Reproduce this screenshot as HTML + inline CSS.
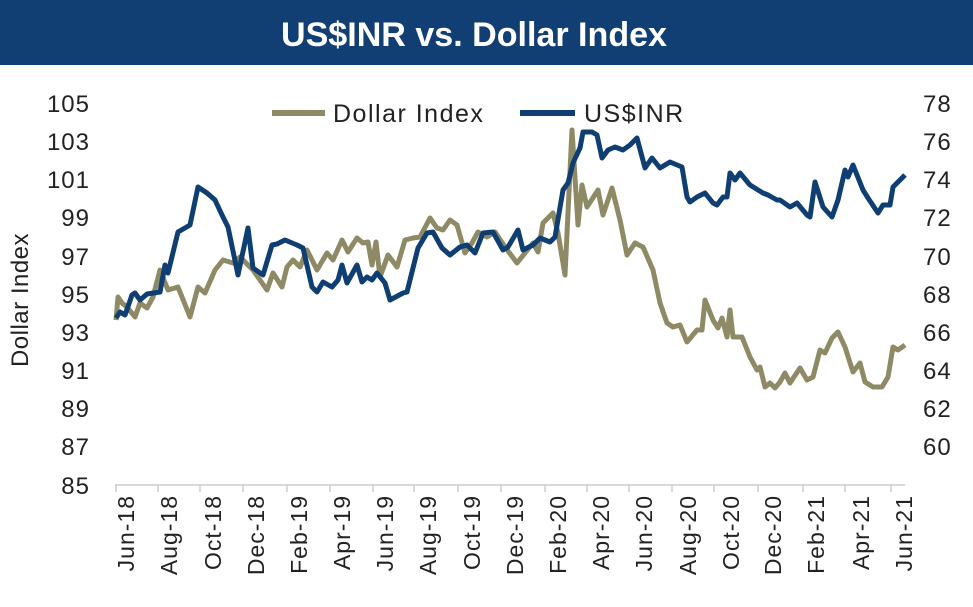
<!DOCTYPE html>
<html><head><meta charset="utf-8"><style>
body{margin:0;background:#fff;width:973px;height:602px;overflow:hidden}
</style></head><body>
<svg width="973" height="602" xmlns="http://www.w3.org/2000/svg" font-family="Liberation Sans, sans-serif">
<rect x="0" y="0" width="973" height="65" fill="#123f73"/>
<text x="474" y="46" text-anchor="middle" fill="#fff" font-size="34" font-weight="bold" font-family="Liberation Sans Narrow, Liberation Sans, sans-serif" textLength="386" lengthAdjust="spacingAndGlyphs">US$INR vs. Dollar Index</text>
<g font-size="24" fill="#222" text-anchor="end" letter-spacing="1">
<text x="90" y="112">105</text><text x="90" y="150">103</text><text x="90" y="188">101</text><text x="90" y="226">99</text><text x="90" y="265">97</text><text x="90" y="303">95</text><text x="90" y="341">93</text><text x="90" y="379">91</text><text x="90" y="417">89</text><text x="90" y="455">87</text><text x="90" y="494">85</text>
</g>
<g font-size="24" fill="#222" text-anchor="start" letter-spacing="1">
<text x="923" y="112">78</text><text x="923" y="150">76</text><text x="923" y="188">74</text><text x="923" y="226">72</text><text x="923" y="265">70</text><text x="923" y="303">68</text><text x="923" y="341">66</text><text x="923" y="379">64</text><text x="923" y="417">62</text><text x="923" y="455">60</text>
</g>
<text transform="translate(28,300) rotate(-90)" text-anchor="middle" font-size="24" fill="#222" letter-spacing="0.5">Dollar Index</text>
<line x1="115" y1="485" x2="905" y2="485" stroke="#ccc" stroke-width="1.5"/>
<g stroke="#ccc" stroke-width="1.5">
<line x1="116" y1="485" x2="116" y2="492"/><line x1="158" y1="485" x2="158" y2="492"/><line x1="200" y1="485" x2="200" y2="492"/><line x1="243" y1="485" x2="243" y2="492"/><line x1="287" y1="485" x2="287" y2="492"/><line x1="330" y1="485" x2="330" y2="492"/><line x1="373" y1="485" x2="373" y2="492"/><line x1="414" y1="485" x2="414" y2="492"/><line x1="458" y1="485" x2="458" y2="492"/><line x1="501" y1="485" x2="501" y2="492"/><line x1="545" y1="485" x2="545" y2="492"/><line x1="587" y1="485" x2="587" y2="492"/><line x1="629" y1="485" x2="629" y2="492"/><line x1="672" y1="485" x2="672" y2="492"/><line x1="714" y1="485" x2="714" y2="492"/><line x1="758" y1="485" x2="758" y2="492"/><line x1="803" y1="485" x2="803" y2="492"/><line x1="845" y1="485" x2="845" y2="492"/><line x1="891" y1="485" x2="891" y2="492"/>
</g>
<g font-size="23" fill="#222" text-anchor="end" letter-spacing="1">
<text transform="translate(134,495) rotate(-90)">Jun-18</text>
<text transform="translate(177,495) rotate(-90)">Aug-18</text>
<text transform="translate(221,495) rotate(-90)">Oct-18</text>
<text transform="translate(264,495) rotate(-90)">Dec-18</text>
<text transform="translate(307,495) rotate(-90)">Feb-19</text>
<text transform="translate(350,495) rotate(-90)">Apr-19</text>
<text transform="translate(393,495) rotate(-90)">Jun-19</text>
<text transform="translate(436,495) rotate(-90)">Aug-19</text>
<text transform="translate(480,495) rotate(-90)">Oct-19</text>
<text transform="translate(523,495) rotate(-90)">Dec-19</text>
<text transform="translate(566,495) rotate(-90)">Feb-20</text>
<text transform="translate(609,495) rotate(-90)">Apr-20</text>
<text transform="translate(652,495) rotate(-90)">Jun-20</text>
<text transform="translate(696,495) rotate(-90)">Aug-20</text>
<text transform="translate(739,495) rotate(-90)">Oct-20</text>
<text transform="translate(781,495) rotate(-90)">Dec-20</text>
<text transform="translate(824,495) rotate(-90)">Feb-21</text>
<text transform="translate(869,495) rotate(-90)">Apr-21</text>
<text transform="translate(912,495) rotate(-90)">Jun-21</text>
</g>
<line x1="272" y1="113" x2="325" y2="113" stroke="#8f8a66" stroke-width="6"/>
<text x="333" y="122" font-size="25" fill="#222" letter-spacing="1.5">Dollar Index</text>
<line x1="520" y1="113" x2="575" y2="113" stroke="#0f3e73" stroke-width="6"/>
<text x="584" y="122" font-size="25" fill="#222" letter-spacing="1.5">US$INR</text>
<polyline fill="none" stroke="#8f8a66" stroke-width="5" stroke-linejoin="round" points="116,320 118,297 122,303 127,307 135,317 140,303 147,308 153,297 160,270 168,290 178,287 190,317 198,287 205,293 215,270 223,260 233,263 240,257 253,270 267,290 273,273 282,287 287,267 293,260 300,267 307,250 317,270 327,253 333,260 342,240 348,252 357,238 363,243 368,242 372,265 376,242 380,277 388,255 397,267 405,240 413,238 420,237 430,218 437,228 443,230 450,220 457,225 465,253 472,243 478,232 487,237 495,232 505,247 517,263 525,253 533,243 538,252 543,223 553,213 558,233 565,275 572,130 578,225 582,185 587,207 598,190 603,215 612,188 620,220 627,255 635,243 643,247 653,270 660,303 667,323 673,327 680,325 687,342 697,330 702,330 705,300 713,320 718,328 722,318 727,337 730,310 733,337 742,337 750,357 757,370 760,367 765,387 770,383 775,388 780,382 785,373 790,383 800,368 807,380 813,377 820,350 825,353 832,338 838,332 845,347 853,372 860,363 865,382 873,387 882,387 888,377 893,347 898,350 905,345"/>
<polyline fill="none" stroke="#0f3e73" stroke-width="5" stroke-linejoin="round" points="116,318 120,312 125,315 132,295 135,293 140,300 147,294 160,292 165,265 168,273 178,232 190,225 198,187 207,193 215,200 222,215 228,227 238,275 248,228 253,268 263,275 272,245 277,244 285,240 297,245 303,248 312,287 317,292 323,282 332,287 338,280 342,265 347,283 357,265 362,282 367,277 372,280 377,273 385,283 390,300 403,293 407,292 418,248 427,233 433,232 442,248 450,255 460,247 467,245 475,253 483,233 493,232 503,250 508,247 518,230 523,250 533,245 540,238 550,242 555,237 563,190 568,183 573,163 580,148 583,132 592,132 597,135 602,158 608,150 615,147 623,150 630,145 637,138 645,168 652,158 660,168 670,162 682,167 687,197 690,202 697,197 705,193 713,203 717,205 723,197 727,197 730,173 735,180 740,173 750,185 763,193 768,195 777,200 780,200 790,207 797,203 807,215 810,217 815,182 823,207 832,217 838,200 845,170 848,177 853,165 863,190 868,198 878,213 883,205 890,205 893,187 905,175"/>
</svg>
</body></html>
